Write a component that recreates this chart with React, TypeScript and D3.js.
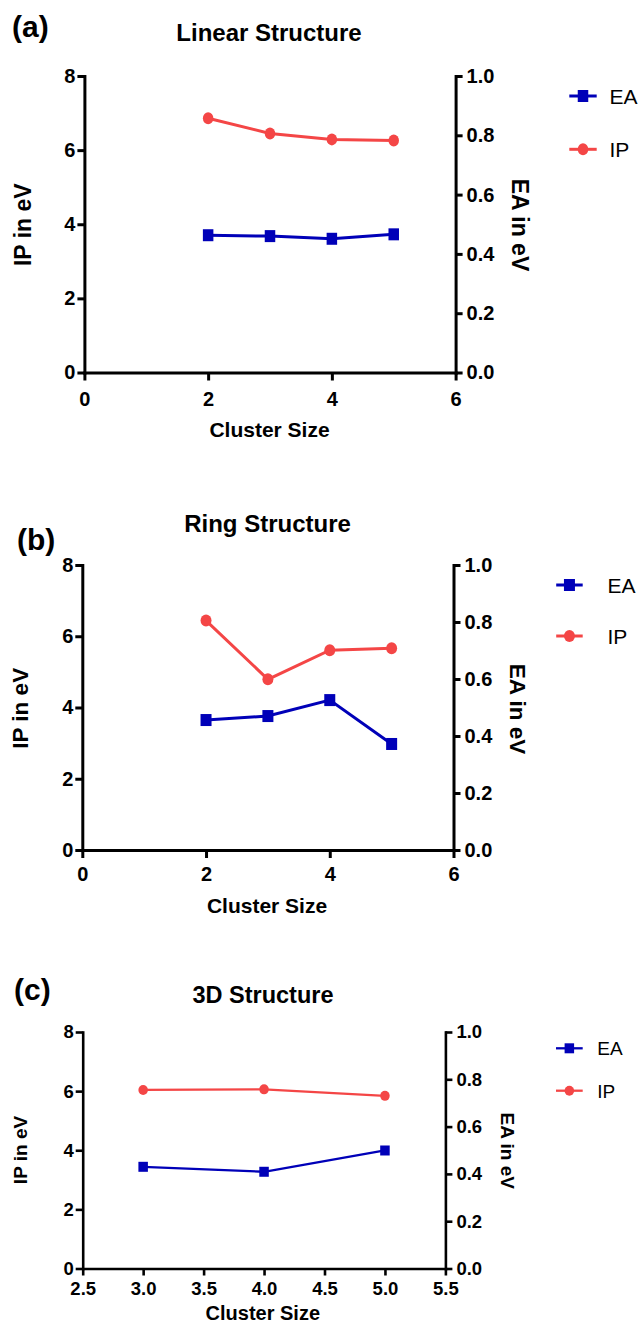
import React, { useEffect, useRef } from 'react';
import * as d3 from 'd3';

// values (IP on left axis, EA on right axis)
const linearSizes = [2, 3, 4, 5];
const linearIP = [6.86, 6.45, 6.29, 6.26];
const linearEA = [0.463, 0.46, 0.451, 0.466];

const ringSizes = [2, 3, 4, 5];
const ringIP = [6.44, 4.79, 5.61, 5.66];
const ringEA = [0.456, 0.47, 0.526, 0.372];

const solidSizes = [3, 4, 5];
const solidIP = [6.04, 6.06, 5.84];
const solidEA = [0.43, 0.409, 0.499];

const ipTicks = [0, 2, 4, 6, 8];
const eaTicks = [0, 0.2, 0.4, 0.6, 0.8, 1.0];
const sizeTicksWide = [0, 2, 4, 6];
const sizeTicksNarrow = [2.5, 3, 3.5, 4, 4.5, 5, 5.5];
const legendNames = ['EA', 'IP'];

const BLUE = '#0000b8';
const RED = '#f44646';
const FONT = '"Liberation Sans", Arial, sans-serif';

const panels = [
  {
    tag: '(a)', title: 'Linear Structure', sizes: linearSizes, ip: linearIP, ea: linearEA,
    xDomain: [0, 6], xTicks: sizeTicksWide, xFmt: d3.format('d'),
    x0: 84.4, x1: 455.6, yTop: 76, yBot: 372.5,
    tagPos: [12, 37], titlePos: [269, 41], xTitlePos: [269.5, 437],
    leftTitle: [22.4, 224.7], rightTitle: [520.6, 225],
    tickFont: 20, titleFont: 24, axisFont: 23, xTitleFont: 21, legFont: 21,
    xTick: 8, xPad: 11, stroke: 3, line: 3, mark: [10.5, 12],
    legend: { x0: 569.3, x1: 596.7, tx: 609.5, y: [96, 149.3] },
  },
  {
    tag: '(b)', title: 'Ring Structure', sizes: ringSizes, ip: ringIP, ea: ringEA,
    xDomain: [0, 6], xTicks: sizeTicksWide, xFmt: d3.format('d'),
    x0: 82.3, x1: 453.5, yTop: 565, yBot: 850,
    tagPos: [17, 550], titlePos: [267.5, 531.7], xTitlePos: [267, 913],
    leftTitle: [19.4, 708.3], rightTitle: [518.5, 709],
    tickFont: 20, titleFont: 24, axisFont: 22.5, xTitleFont: 21, legFont: 21,
    xTick: 8, xPad: 8.5, stroke: 3, line: 3, mark: [11, 12],
    legend: { x0: 556.2, x1: 582.7, tx: 607.5, y: [585, 636] },
  },
  {
    tag: '(c)', title: '3D Structure', sizes: solidSizes, ip: solidIP, ea: solidEA,
    xDomain: [2.5, 5.5], xTicks: sizeTicksNarrow, xFmt: d3.format('.1f'),
    x0: 82.7, x1: 445.4, yTop: 1032, yBot: 1268.5,
    tagPos: [14, 1000.4], titlePos: [263, 1003.3], xTitlePos: [262.8, 1320],
    leftTitle: [20.4, 1150], rightTitle: [508.3, 1150.8],
    tickFont: 18.5, titleFont: 23.5, axisFont: 19, xTitleFont: 20, legFont: 19,
    xTick: 7, xPad: 6, stroke: 2.6, line: 2.3, mark: [9.5, 10],
    legend: { x0: 556, x1: 582.7, tx: 597.3, y: [1048.3, 1090.7] },
  },
];

function Panel({ p }: { p: any }) {
  const ref = useRef<SVGGElement>(null);

  useEffect(() => {
    const g = d3.select(ref.current);
    g.selectAll('*').remove();

    const x = d3.scaleLinear().domain(p.xDomain).range([p.x0, p.x1]);
    const yIP = d3.scaleLinear().domain([0, 8]).range([p.yBot, p.yTop]);
    const yEA = d3.scaleLinear().domain([0, 1]).range([p.yBot, p.yTop]);

    const styleAxis = (sel: any) => {
      sel.attr('font-family', null).attr('font-size', null);
      sel.select('.domain').attr('stroke', '#000').attr('stroke-width', p.stroke).attr('stroke-linecap', 'square');
      sel.selectAll('.tick line').attr('stroke', '#000').attr('stroke-width', p.stroke);
      sel.selectAll('.tick text')
        .attr('fill', '#000')
        .style('font-family', FONT)
        .style('font-weight', 'bold')
        .style('font-size', p.tickFont + 'px');
    };

    g.append('g')
      .attr('transform', `translate(0,${p.yBot})`)
      .call(d3.axisBottom(x).tickValues(p.xTicks).tickFormat(p.xFmt)
        .tickSize(p.xTick).tickSizeOuter(0).tickPadding(p.xPad))
      .call(styleAxis);

    g.append('g')
      .attr('transform', `translate(${p.x0},0)`)
      .call(d3.axisLeft(yIP).tickValues(ipTicks).tickFormat(d3.format('d'))
        .tickSize(7).tickSizeOuter(0).tickPadding(2))
      .call(styleAxis);

    g.append('g')
      .attr('transform', `translate(${p.x1},0)`)
      .call(d3.axisRight(yEA).tickValues(eaTicks).tickFormat(d3.format('.1f'))
        .tickSize(7).tickSizeOuter(0).tickPadding(4))
      .call(styleAxis);

    const [mw, mh] = p.mark;
    const ipPts = p.sizes.map((s: number, i: number) => [x(s), yIP(p.ip[i])]);
    const eaPts = p.sizes.map((s: number, i: number) => [x(s), yEA(p.ea[i])]);
    const line = d3.line();

    g.append('path').attr('d', line(eaPts)).attr('fill', 'none')
      .attr('stroke', BLUE).attr('stroke-width', p.line);
    g.selectAll('rect.ea').data(eaPts).enter().append('rect')
      .attr('class', 'ea')
      .attr('x', (d: any) => d[0] - mw / 2).attr('y', (d: any) => d[1] - mh / 2)
      .attr('width', mw).attr('height', mh).attr('fill', BLUE);

    g.append('path').attr('d', line(ipPts)).attr('fill', 'none')
      .attr('stroke', RED).attr('stroke-width', p.line);
    g.selectAll('ellipse.ip').data(ipPts).enter().append('ellipse')
      .attr('class', 'ip')
      .attr('cx', (d: any) => d[0]).attr('cy', (d: any) => d[1])
      .attr('rx', mw / 2).attr('ry', mh / 2).attr('fill', RED);

    // legend
    const lg = p.legend;
    legendNames.forEach((name, i) => {
      const ly = lg.y[i];
      const col = name === 'EA' ? BLUE : RED;
      const cx = (lg.x0 + lg.x1) / 2;
      g.append('line').attr('x1', lg.x0).attr('x2', lg.x1).attr('y1', ly).attr('y2', ly)
        .attr('stroke', col).attr('stroke-width', p.line);
      if (name === 'EA') {
        g.append('rect').attr('x', cx - mw / 2).attr('y', ly - mh / 2)
          .attr('width', mw).attr('height', mh).attr('fill', col);
      } else {
        g.append('ellipse').attr('cx', cx).attr('cy', ly)
          .attr('rx', mw / 2).attr('ry', mh / 2).attr('fill', col);
      }
      g.append('text').attr('x', lg.tx).attr('y', ly + p.legFont * 0.36)
        .style('font-family', FONT).style('font-size', p.legFont + 'px')
        .text(name);
    });

    const txt = (s: string, xx: number, yy: number, size: number, anchor: string, rot = 0) => {
      const t = g.append('text')
        .attr('text-anchor', anchor)
        .style('font-family', FONT).style('font-weight', 'bold').style('font-size', size + 'px')
        .text(s);
      if (rot) {
        t.attr('transform', `translate(${xx},${yy}) rotate(${rot})`).attr('dy', '0.36em');
      } else {
        t.attr('x', xx).attr('y', yy);
      }
    };

    txt(p.tag, p.tagPos[0], p.tagPos[1], 30, 'start');
    txt(p.title, p.titlePos[0], p.titlePos[1], p.titleFont, 'middle');
    txt('Cluster Size', p.xTitlePos[0], p.xTitlePos[1], p.xTitleFont, 'middle');
    txt('IP in eV', p.leftTitle[0], p.leftTitle[1], p.axisFont, 'middle', -90);
    txt('EA in eV', p.rightTitle[0], p.rightTitle[1], p.axisFont, 'middle', 90);
  }, [p]);

  return <g ref={ref} />;
}

export default function App() {
  return (
    <svg
      width={639}
      height={1324}
      style={{ position: 'absolute', left: 0, top: 0, display: 'block', background: '#fff' }}
    >
      {panels.map((p) => (
        <Panel key={p.tag} p={p} />
      ))}
    </svg>
  );
}
